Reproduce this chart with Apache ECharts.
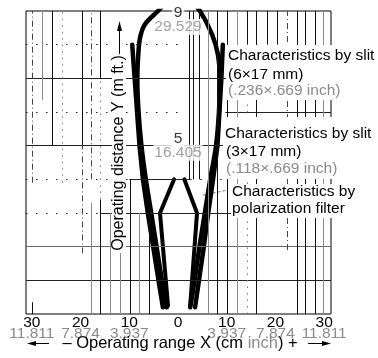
<!DOCTYPE html>
<html>
<head>
<meta charset="utf-8">
<script src="https://cdn.jsdelivr.net/npm/echarts@6/dist/echarts.min.js"></script>
<style>
html,body{margin:0;padding:0;background:#fff;}
#c{width:378px;height:358px;}
</style>
</head>
<body>
<div id="c"></div>
<script>
// ---- tick labels ----
const xTickValues = [-30, -20, -10, 0, 10, 20, 30];
const xTickCm = ['30', '20', '10', '0', '10', '20', '30'];
const xTickInch = ['11.811', '7.874', '3.937', '', '3.937', '7.874', '11.811'];
const yTickValues = [9, 5];
const yTickM = ['9', '5'];
const yTickFt = ['29.529', '16.405'];

// ---- characteristic curves [x cm, y m] ----
const slit6x17 = [[-2.3,0.2],[-3.3,1.0],[-4.4,2.0],[-5.5,3.0],[-6.6,4.0],[-7.5,5.0],[-8.1,6.0],[-8.35,7.0],[-8.2,7.6],[-7.8,8.2],[-6.8,8.6],[-4.1,9.0],[-2.0,9.3],[0.2,9.42],[2.5,9.3],[4.5,9.0],[7.0,8.3],[8.2,7.7],[8.6,7.0],[8.4,6.0],[7.8,5.0],[6.6,4.0],[5.5,3.0],[4.4,2.0],[3.4,1.0],[2.5,0.2]];
const slit3x17Left = [[-9.4,8.0],[-8.9,7.0],[-8.4,6.0],[-7.9,5.0],[-7.2,4.0],[-6.2,3.0],[-5.1,2.0],[-4.0,1.0],[-3.1,0.2]];
const slit3x17Right = [[9.2,8.0],[8.9,7.0],[8.5,6.0],[8.1,5.0],[7.2,4.0],[6.2,3.0],[5.3,2.0],[4.3,1.0],[3.5,0.2]];
const polarLeft = [[-0.8,4.0],[-3.7,3.0],[-2.05,0.25]];
const polarRight = [[1.3,4.0],[3.9,3.0],[2.5,0.25]];
const polarLeader = [[5.1,3.53],[10.2,3.68]];

// ---- grid segments ----
// horizontal: [y, xFrom, xTo]
const hSolid = [[7,-31.2,31.4],[5,-31.2,31.4],[1,-31.2,31.4],[6,9.7,31.4],[4,-10,2.5],[3,-16,31.4]];
const hGray = [[2,-31.2,31.4]];
const hDotted = [[8,-31.2,0.5],[6,-31.2,0.5],[4,-31.2,-10],[4,2.5,10],[3,-31.2,-16]];
// vertical: [x, yFrom, yTo]
const vBlack = [[-30,0,0.35],[-25.9,5,9],[-19.7,5,9],[-16.0,7,9],[-16.0,0,3.4],[-9.9,0,4],[-6.0,0,3],[2.3,4,9],[3.1,4,9],[4.4,4,9],[8.1,0,9],[10.2,0,9],[14.2,8,9],[16.0,0,9],[18.3,8,9],[20.3,8,9],[24.4,0,9],[26.1,0,9],[28.1,0,9]];
const vGray = [[-27.9,6.36,9],[-17.9,0,3.3],[-14.0,0,3],[-11.9,0,2],[-8.0,0,3],[6.2,0,9],[12.1,0,9],[29.8,0,9]];
const vDashed = [[-30,3.9,9],[-19.7,1.8,5],[-17.9,4,9],[22.4,1.9,9]];
const vDotted = [[-23.8,3.9,9],[-16.0,3.4,7],[14.2,0,8]];

const FONT = '"Liberation Sans", Arial, sans-serif';
const GRAYTXT = '#8a8a8a';

function hSeg(list){ return list.map(([y,a,b]) => [{coord:[a,y]},{coord:[b,y]}]); }
function vSeg(list){ return list.map(([x,a,b]) => [{coord:[x,a]},{coord:[x,b]}]); }
function gridSeries(data, style){
  return { type:'line', data:[], silent:true, z:1,
    markLine:{ silent:true, symbol:['none','none'], label:{show:false}, emphasis:{disabled:true},
      lineStyle: Object.assign({width:1}, style), data: data } };
}
function curve(data, w, smooth){
  return { type:'line', data:data, symbol:'none', smooth:smooth, clip:true, z:3, silent:true,
    lineStyle:{color:'#000', width:w, cap:'round', join:'round'} };
}

const chart = echarts.init(document.getElementById('c'), null, {renderer:'canvas'});
const option = {
  animation:false,
  grid:{ left:26, right:47, top:11, bottom:44, show:true, borderColor:'#000', borderWidth:1 },
  xAxis:{ type:'value', min:-31.2, max:31.4,
    axisLine:{show:false}, axisTick:{show:false}, splitLine:{show:false},
    axisLabel:{ customValues:xTickValues, margin:3,
      formatter:function(v){ const i = xTickValues.indexOf(Math.round(v));
        if(i<0) return ''; return xTickInch[i] ? '{a|'+xTickCm[i]+'}\n{b|'+xTickInch[i]+'}' : '{a|'+xTickCm[i]+'}'; },
      rich:{ a:{fontSize:15.5, color:'#000', fontFamily:FONT, lineHeight:11},
             b:{fontSize:15.5, color:GRAYTXT, fontFamily:FONT, lineHeight:11} } } },
  yAxis:{ type:'value', min:0, max:9, axisLine:{show:false}, axisTick:{show:false}, axisLabel:{show:false}, splitLine:{show:false} },
  series:[
    gridSeries(hSeg(hSolid), {color:'#222', type:'solid'}),
    gridSeries(hSeg(hGray), {color:'#666', type:'solid'}),
    gridSeries(hSeg(hDotted), {color:'#222', type:[1.5,8.5]}),
    gridSeries(vSeg(vBlack), {color:'#111', type:'solid'}),
    gridSeries(vSeg(vGray), {color:'#8a8a8a', type:'solid'}),
    gridSeries(vSeg(vDashed), {color:'#444', type:[6,3,1,3]}),
    gridSeries(vSeg(vDotted), {color:'#777', type:[1.5,5]}),
    { type:'line', data:polarLeader, symbol:'none', z:2, silent:true, lineStyle:{color:'#777', width:1, type:[3,2]} },
    curve(slit6x17, 4.5, 0.35),
    curve(slit3x17Left, 4.5, false),
    curve(slit3x17Right, 4.5, false),
    curve(polarLeft, 4, false),
    curve(polarRight, 4, false),
    { type:'scatter', z:6, silent:true, symbolSize:0,
      data: yTickValues.map((y,i) => ({ value:[0,y],
        label:{ show:true, position:'inside', offset: i===0 ? [0,9] : [0,0],
          formatter:'{a|'+yTickM[i]+'}\n{b|'+yTickFt[i]+'}' } })),
      label:{ rich:{
        a:{fontSize:15.5, color:'#000', fontFamily:FONT, lineHeight:14, backgroundColor:'#fff', padding:[0,2]},
        b:{fontSize:15.5, color:GRAYTXT, fontFamily:FONT, lineHeight:14, backgroundColor:'#fff', padding:[0,1]} } } }
  ],
  graphic:[
    // y-axis title
    { type:'rect', z:20, shape:{x:112, y:20, width:14, height:233}, style:{fill:'#fff'} },
    { type:'text', z:21, x:119, y:153, rotation:Math.PI/2,
      style:{ text:'Operating distance Y (m ft.)', fill:'#000', font:'16px '+FONT, align:'center', verticalAlign:'middle' } },
    { type:'line', z:21, shape:{x1:119.5, y1:54, x2:119.5, y2:30}, style:{stroke:'#000', lineWidth:1} },
    { type:'polygon', z:21, shape:{points:[[119.5,21],[117,31],[122,31]]}, style:{fill:'#000'} },
    // x-axis title
    { type:'text', z:21, x:180, y:343,
      style:{ text:'{k|– Operating range X (cm }{g|inch}{k|) +}', align:'center', verticalAlign:'middle',
        rich:{ k:{fill:'#000', fontSize:16.5, fontFamily:FONT}, g:{fill:GRAYTXT, fontSize:16.5, fontFamily:FONT} } } },
    { type:'line', z:21, shape:{x1:34, y1:343.5, x2:49, y2:343.5}, style:{stroke:'#000', lineWidth:1} },
    { type:'polygon', z:21, shape:{points:[[27,343.5],[36,341],[36,346]]}, style:{fill:'#000'} },
    { type:'line', z:21, shape:{x1:308, y1:343.5, x2:323, y2:343.5}, style:{stroke:'#000', lineWidth:1} },
    { type:'polygon', z:21, shape:{points:[[331,343.5],[322,341],[322,346]]}, style:{fill:'#000'} },
    // annotation blocks
    { type:'rect', z:20, shape:{x:226, y:45, width:152, height:55}, style:{fill:'#fff'} },
    { type:'text', z:21, x:228, y:56, style:{text:'Characteristics by slit', fill:'#000', font:'15.5px '+FONT, verticalAlign:'middle'} },
    { type:'text', z:21, x:228, y:75, style:{text:'(6×17 mm)', fill:'#000', font:'15.5px '+FONT, verticalAlign:'middle'} },
    { type:'text', z:21, x:228, y:91, style:{text:'(.236×.669 inch)', fill:GRAYTXT, font:'15.5px '+FONT, verticalAlign:'middle'} },
    { type:'rect', z:20, shape:{x:223, y:117, width:155, height:62}, style:{fill:'#fff'} },
    { type:'text', z:21, x:225, y:134, style:{text:'Characteristics by slit', fill:'#000', font:'15.5px '+FONT, verticalAlign:'middle'} },
    { type:'text', z:21, x:226, y:152, style:{text:'(3×17 mm)', fill:'#000', font:'15.5px '+FONT, verticalAlign:'middle'} },
    { type:'text', z:21, x:226, y:169, style:{text:'(.118×.669 inch)', fill:GRAYTXT, font:'15.5px '+FONT, verticalAlign:'middle'} },
    { type:'rect', z:20, shape:{x:231, y:184, width:147, height:34}, style:{fill:'#fff'} },
    { type:'text', z:21, x:232, y:192, style:{text:'Characteristics by', fill:'#000', font:'15.5px '+FONT, verticalAlign:'middle'} },
    { type:'text', z:21, x:232, y:209, style:{text:'polarization filter', fill:'#000', font:'15.5px '+FONT, verticalAlign:'middle'} }
  ]
};
chart.setOption(option);
</script>
</body>
</html>
